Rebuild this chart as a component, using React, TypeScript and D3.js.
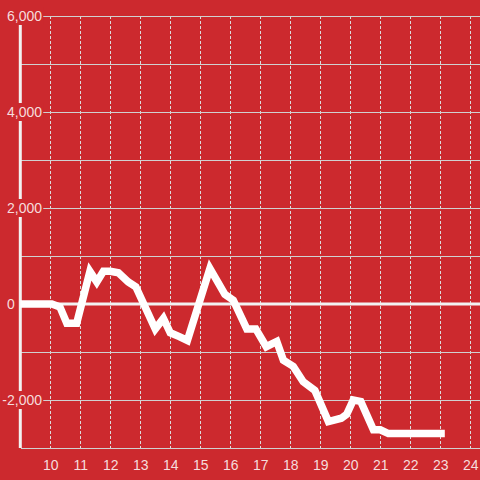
import React, { useEffect, useRef } from "react";
import * as d3 from "d3";

// hours of day (decimal) and running value
const hours = [
  9, 10.05, 10.32, 10.55, 10.88, 11.32, 11.55, 11.77, 12.0, 12.27, 12.6, 12.85,
  13.5, 13.77, 14.0, 14.3, 14.57, 15.32, 15.82, 16.1, 16.55, 16.85, 17.2, 17.55,
  17.77, 18.1, 18.43, 18.82, 19.27, 19.7, 19.88, 20.1, 20.35, 20.77, 21.0, 21.27, 23.15,
];
const values = [
  0, 0, -60, -400, -400, 680, 460, 680, 680, 650, 460, 360,
  -520, -300, -600, -680, -760, 740, 200, 80, -520, -520, -890, -780,
  -1170, -1300, -1620, -1800, -2450, -2380, -2300, -2000, -2030, -2620, -2620, -2700, -2700,
];
const xTicks = [10, 11, 12, 13, 14, 15, 16, 17, 18, 19, 20, 21, 22, 23, 24];
const yGrid = [-3000, -2000, -1000, 0, 1000, 2000, 3000, 4000, 5000, 6000];
const yLabels = [-2000, 0, 2000, 4000, 6000];

const W = 480;
const H = 480;
const bg = "#cc292e";
const font = "Liberation Sans, Arial, sans-serif";

export default function App() {
  const ref = useRef<SVGSVGElement>(null);

  useEffect(() => {
    const svg = d3.select(ref.current);
    svg.selectAll("*").remove();

    const x = d3.scaleLinear().domain([9, 25]).range([20.3, 500.3]);
    const y = d3.scaleLinear().domain([-3000, 6000]).range([448, 16]);

    svg.append("rect").attr("width", W).attr("height", H).attr("fill", bg);

    // vertical dashed grid
    svg.append("g")
      .selectAll("line")
      .data(xTicks)
      .enter()
      .append("line")
      .attr("x1", (d) => Math.round(x(d)) + 0.5)
      .attr("x2", (d) => Math.round(x(d)) + 0.5)
      .attr("y1", y(6000))
      .attr("y2", y(-3000))
      .attr("stroke", "#dcdcdc")
      .attr("stroke-width", 1)
      .attr("stroke-dasharray", "3,2");

    // horizontal grid
    svg.append("g")
      .selectAll("line")
      .data(yGrid.filter((d) => d !== 0))
      .enter()
      .append("line")
      .attr("x1", 21)
      .attr("x2", W)
      .attr("y1", (d) => Math.round(y(d)) + 0.5)
      .attr("y2", (d) => Math.round(y(d)) + 0.5)
      .attr("stroke", "#d0d0d0")
      .attr("stroke-width", 1);

    // zero line
    svg.append("line")
      .attr("x1", 21)
      .attr("x2", W)
      .attr("y1", y(0))
      .attr("y2", y(0))
      .attr("stroke", "#f2f2f2")
      .attr("stroke-width", 3);

    // y axis line
    svg.append("line")
      .attr("x1", 20.3)
      .attr("x2", 20.3)
      .attr("y1", y(6000))
      .attr("y2", y(-3000))
      .attr("stroke", "#f2f2f2")
      .attr("stroke-width", 3);

    // data line
    const pts: [number, number][] = hours.map((h, i) => [h, values[i]]);
    const line = d3
      .line<[number, number]>()
      .x((d) => x(d[0]))
      .y((d) => y(d[1]));
    svg.append("path")
      .attr("d", line(pts) as string)
      .attr("fill", "none")
      .attr("stroke", "#ffffff")
      .attr("stroke-width", 7.5)
      .attr("stroke-linejoin", "miter")
      .attr("stroke-linecap", "butt");

    // y labels, left aligned with the minus sign hanging out, on a background
    const lg = svg.append("g");
    yLabels.forEach((v) => {
      const t = lg
        .append("text")
        .attr("x", 7)
        .attr("y", y(v) + 5)
        .attr("text-anchor", "start")
        .attr("font-family", font)
        .attr("font-size", 14)
        .attr("fill", "#f6dcdc")
        .text(d3.format(",")(v).replace("−", "-"));
      if (v < 0) {
        const probe = lg.append("text").attr("font-family", font).attr("font-size", 14).text("-");
        const mw = (probe.node() as SVGTextElement).getComputedTextLength();
        probe.remove();
        t.attr("x", 7 - mw);
      }
      const bb = (t.node() as SVGTextElement).getBBox();
      lg.insert("rect", "text")
        .attr("x", bb.x - 1)
        .attr("y", bb.y - 1)
        .attr("width", bb.width + 2)
        .attr("height", bb.height + 2)
        .attr("fill", bg);
    });

    // x labels
    svg.append("g")
      .selectAll("text")
      .data(xTicks)
      .enter()
      .append("text")
      .attr("x", (d) => x(d) + 0.5)
      .attr("y", 470)
      .attr("text-anchor", "middle")
      .attr("font-family", font)
      .attr("font-size", 14)
      .attr("fill", "#f6dcdc")
      .text((d) => String(d));
  }, []);

  return (
    <svg
      ref={ref}
      width={W}
      height={H}
      style={{ position: "absolute", left: 0, top: 0, display: "block" }}
    />
  );
}
